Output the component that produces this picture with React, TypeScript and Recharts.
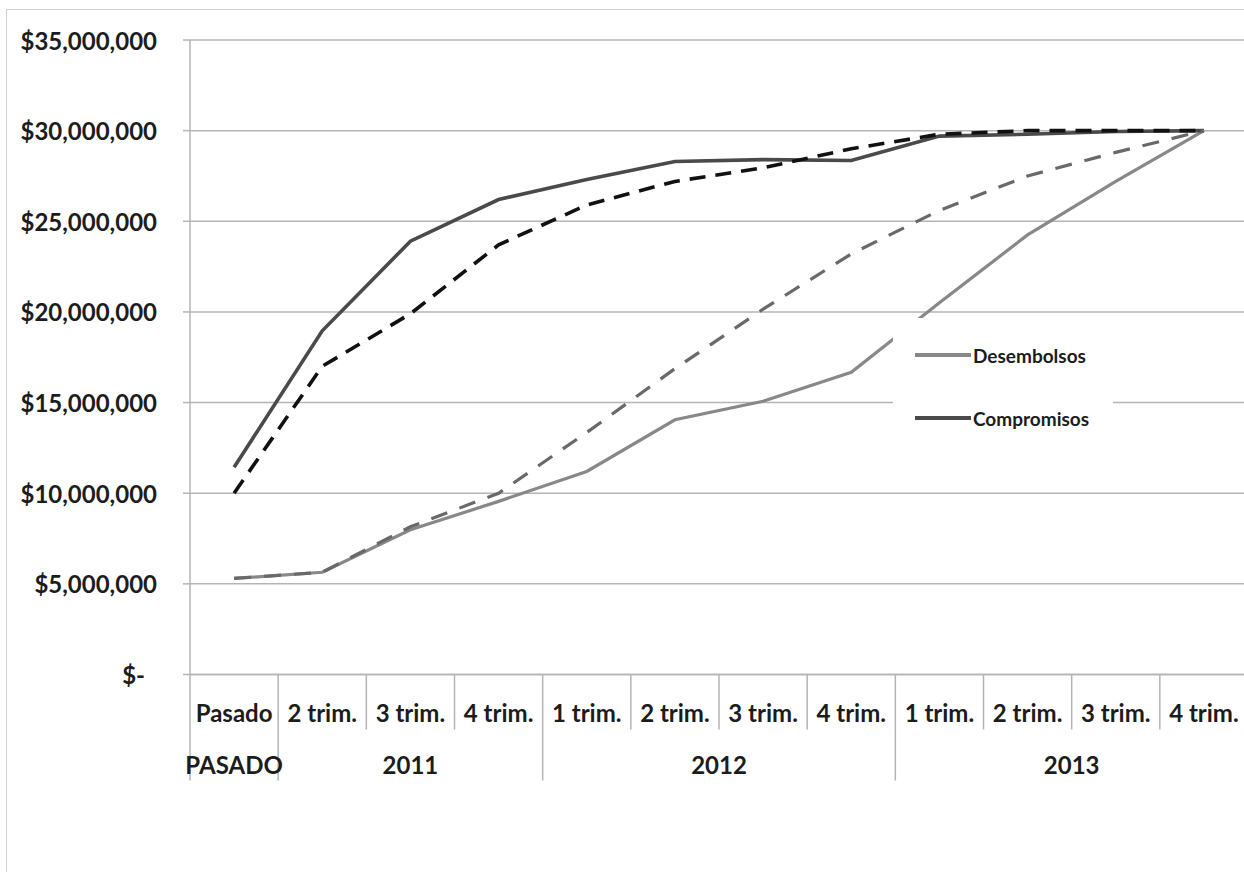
import React from "react";
import { CartesianGrid, Line, LineChart, XAxis, YAxis } from "recharts";

// Categories (quarters) and the year groups they belong to
const trims = [
  "Pasado",
  "2 trim.",
  "3 trim.",
  "4 trim.",
  "1 trim.",
  "2 trim.",
  "3 trim.",
  "4 trim.",
  "1 trim.",
  "2 trim.",
  "3 trim.",
  "4 trim.",
];
const yearLabels = ["PASADO", "2011", "2012", "2013"];
const yearSpans = [1, 3, 4, 4];

// Series values (USD, cumulative)
const desembolsos = [
  5300000, 5640000, 7980000, 9550000, 11200000, 14050000, 15070000, 16670000, 20500000,
  24250000, 27200000, 30000000,
];
const desembolsosPlan = [
  5300000, 5640000, 8150000, 10000000, 13350000, 16870000, 20150000, 23200000, 25600000,
  27500000, 28800000, 30000000,
];
const compromisos = [
  11430000, 18960000, 23900000, 26200000, 27300000, 28300000, 28400000, 28350000, 29700000,
  29800000, 29950000, 30000000,
];
const compromisosPlan = [
  10000000, 17000000, 19900000, 23700000, 25900000, 27200000, 27950000, 29000000, 29800000,
  30000000, 30000000, 30000000,
];
const yTicks = [0, 5000000, 10000000, 15000000, 20000000, 25000000, 30000000, 35000000];

const data = trims.map((trim, i) => ({
  trim,
  desembolsos: desembolsos[i],
  desembolsosPlan: desembolsosPlan[i],
  compromisos: compromisos[i],
  compromisosPlan: compromisosPlan[i],
}));

// drawing order matters: plans go over the actuals
const series = [
  { key: "desembolsos", name: "Desembolsos", color: "#888", width: 3.2, dash: undefined, legend: true },
  { key: "compromisos", name: "Compromisos", color: "#4a4a4a", width: 3.6, dash: undefined, legend: true },
  { key: "desembolsosPlan", name: "Desembolsos (plan)", color: "#696969", width: 3.2, dash: "17 13", legend: false },
  { key: "compromisosPlan", name: "Compromisos (plan)", color: "#111", width: 3.6, dash: "16 10", legend: false },
];

const CHART_W = 1250;
const CHART_H = 872;
const Y_AXIS_W = 190;
const MARGIN = { top: 40, right: 2, bottom: 0, left: 0 };
const X_AXIS_H = 197.5;
const BAND = (CHART_W - Y_AXIS_W - MARGIN.left - MARGIN.right) / trims.length;

const FONT = "Lato, 'Noto Sans', sans-serif";
const TEXT = "#1c1c1c";
const GRID = "#b4b4b4";

const groupStarts = yearSpans.map((_, g) => yearSpans.slice(0, g).reduce((a, b) => a + b, 0));
const groupEnds = groupStarts.map((s, g) => s + yearSpans[g] - 1);

const labelStyle = { fontFamily: FONT, fontWeight: 700, fontSize: 24, fill: TEXT };

function CategoryTick({ x, y, payload, index }: any) {
  const g = groupStarts.indexOf(index);
  const isGroupEnd = groupEnds.includes(index);
  const isLast = index === trims.length - 1;
  return (
    <g>
      <text x={x} y={y + 38} textAnchor="middle" dominantBaseline="central" style={labelStyle}>
        {payload.value}
      </text>
      {index === 0 && (
        <line x1={x - BAND / 2} x2={x - BAND / 2} y1={y} y2={y + 106} stroke={GRID} strokeWidth={1.5} />
      )}
      {!isLast && (
        <line
          x1={x + BAND / 2}
          x2={x + BAND / 2}
          y1={y}
          y2={isGroupEnd ? y + 106 : y + 55}
          stroke={GRID}
          strokeWidth={1.5}
        />
      )}
      {g >= 0 && (
        <text
          x={x + ((yearSpans[g] - 1) * BAND) / 2}
          y={y + 90}
          textAnchor="middle"
          dominantBaseline="central"
          style={labelStyle}
        >
          {yearLabels[g]}
        </text>
      )}
    </g>
  );
}

function formatMoney(v: number) {
  if (v === 0) return "$-";
  return "$" + v.toLocaleString("en-US");
}

function MoneyTick({ x, y, payload }: any) {
  const zero = payload.value === 0;
  return (
    <text x={zero ? x - 12 : x} y={y} textAnchor="end" dominantBaseline="central" style={labelStyle}>
      {formatMoney(payload.value)}
    </text>
  );
}

function LegendBox() {
  const items = series.filter((s) => s.legend);
  return (
    <div
      style={{
        position: "absolute",
        left: 893,
        top: 318,
        width: 220,
        height: 128,
        background: "#fff",
      }}
    >
      {items.map((item, i) => (
        <div
          key={item.key}
          style={{
            position: "absolute",
            left: 22,
            top: 37 + i * 63 - 12,
            height: 24,
            display: "flex",
            alignItems: "center",
          }}
        >
          <span
            style={{
              display: "inline-block",
              width: 56,
              height: 4,
              background: item.color,
              marginRight: 2,
            }}
          />
          <span style={{ fontFamily: FONT, fontWeight: 700, fontSize: 19, color: TEXT }}>
            {item.name}
          </span>
        </div>
      ))}
    </div>
  );
}

export default function App() {
  return (
    <div
      style={{
        position: "absolute",
        left: 0,
        top: 0,
        width: 1244,
        height: 872,
        overflow: "hidden",
        background: "#fff",
      }}
    >
      <div
        style={{
          position: "absolute",
          left: 6,
          top: 9,
          width: 1300,
          height: 1000,
          borderLeft: "1.5px solid #d0d0d0",
          borderTop: "1.5px solid #d0d0d0",
        }}
      />
      <div style={{ position: "absolute", left: 0, top: 0 }}>
        <LineChart width={CHART_W} height={CHART_H} data={data} margin={MARGIN}>
          <CartesianGrid horizontal vertical={false} stroke={GRID} strokeWidth={1.5} />
          <XAxis
            dataKey="trim"
            padding={{ left: BAND / 2, right: BAND / 2 }}
            height={X_AXIS_H}
            interval={0}
            tickSize={0}
            tickMargin={0}
            tickLine={false}
            axisLine={{ stroke: GRID, strokeWidth: 1.5 }}
            tick={<CategoryTick />}
          />
          <YAxis
            width={Y_AXIS_W}
            domain={[0, 35000000]}
            ticks={yTicks}
            interval={0}
            tickSize={7}
            tickMargin={26}
            tickLine={{ stroke: GRID, strokeWidth: 1.5 }}
            axisLine={{ stroke: GRID, strokeWidth: 1.5 }}
            tick={<MoneyTick />}
          />
          {series.map((s) => (
            <Line
              key={s.key}
              name={s.name}
              dataKey={s.key}
              stroke={s.color}
              strokeWidth={s.width}
              strokeDasharray={s.dash}
              dot={false}
              isAnimationActive={false}
            />
          ))}
        </LineChart>
      </div>
      <LegendBox />
    </div>
  );
}
